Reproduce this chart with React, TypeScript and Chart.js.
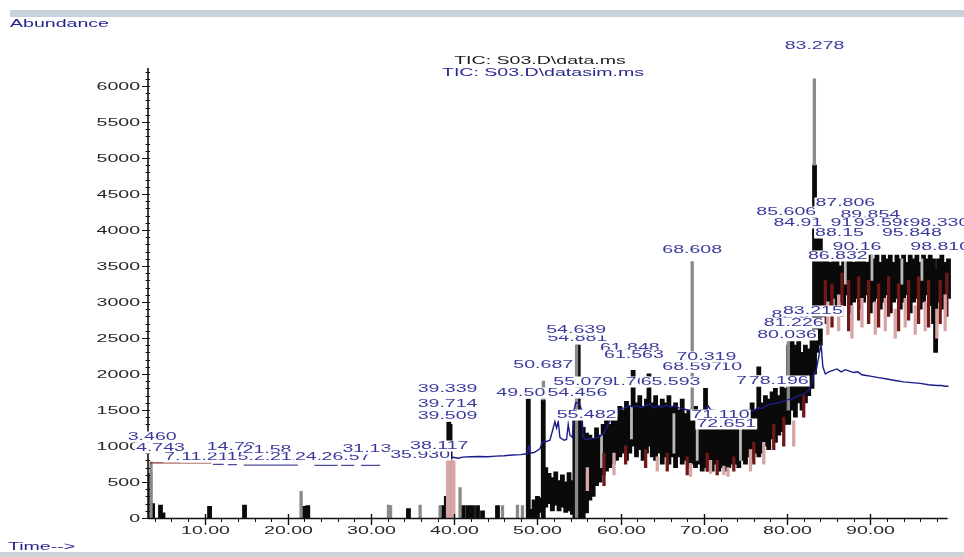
import { useEffect, useRef } from "react";
import { Chart, registerables } from "chart.js";

Chart.register(...registerables);

type Bar = [number, number, number];
type Pt = [number, number | null];
type Lbl = [string, number, number];

const xMin = 3.2;
const xMax = 100;
const yMin = 0;
const yMax = 6250;
const xTickValues = [10, 20, 30, 40, 50, 60, 70, 80, 90];
const yTickValues = [0, 500, 1000, 1500, 2000, 2500, 3000, 3500, 4000, 4500, 5000, 5500, 6000];

const titleLines = ["TIC: S03.D\\data.ms", "TIC: S03.D\\datasim.ms"];
const yAxisTitle = "Abundance";
const xAxisTitle = "Time-->";

// TIC data.ms, drawn as [time, low, high] strokes
const blackBars: Bar[] = [
  [3.42, 0, 620], [3.75, 0, 200], [4.7, 0, 180], [5.0, 0, 70], [10.6, 0, 160], [14.8, 0, 180],
  [22.0, 0, 160], [22.4, 0, 170], [34.5, 0, 130], [38.6, 0, 170], [39.05, 0, 300], [39.35, 780, 1330],
  [39.5, 820, 1300], [41.1, 0, 170], [41.7, 0, 170], [42.2, 0, 170], [42.8, 0, 170], [43.4, 0, 100],
  [45.2, 0, 170], [48.9, 0, 1650], [49.2, 0, 120], [49.6, 0, 250], [50.0, 0, 300], [50.4, 80, 280],
  [50.7, 0, 1640], [51.0, 150, 700], [51.4, 200, 620], [51.8, 100, 560], [52.2, 180, 640], [52.6, 100, 520],
  [53.0, 150, 600], [53.4, 80, 500], [53.8, 100, 630], [54.2, 50, 520], [54.5, 0, 1500], [54.9, 0, 2400],
  [55.2, 0, 1500], [55.5, 0, 1260], [55.9, 70, 1180], [56.3, 250, 1150], [56.7, 300, 1100], [57.1, 450, 1250],
  [57.5, 500, 1150], [57.9, 600, 1300], [58.3, 650, 1380], [58.7, 700, 1300], [59.1, 750, 1450], [59.5, 800, 1400],
  [59.9, 850, 1550], [60.3, 900, 1500], [60.7, 800, 1620], [61.1, 900, 1550], [61.5, 1000, 2050], [61.9, 850, 1600],
  [62.3, 950, 1700], [62.7, 800, 1550], [63.1, 900, 1650], [63.4, 1000, 2000], [63.8, 850, 1600], [64.2, 800, 1700],
  [64.6, 900, 1550], [65.0, 750, 1650], [65.4, 850, 1600], [65.8, 750, 1700], [66.2, 850, 1550], [66.6, 700, 1600],
  [67.0, 850, 1500], [67.4, 750, 1650], [67.8, 800, 1450], [68.2, 700, 1500], [68.6, 750, 1450], [69.0, 700, 1550],
  [69.4, 750, 1450], [69.8, 650, 1500], [70.2, 700, 1800], [70.6, 650, 1400], [71.0, 650, 1500], [71.4, 750, 1350],
  [71.8, 650, 1400], [72.2, 700, 1300], [72.6, 650, 1350], [73.0, 700, 1250], [73.4, 750, 1400], [73.8, 750, 1300],
  [74.2, 700, 1450], [74.6, 800, 1350], [75.0, 750, 1500], [75.4, 850, 1450], [75.8, 800, 1600], [76.2, 900, 1500],
  [76.6, 850, 2100], [77.0, 900, 1600], [77.4, 1000, 1700], [77.8, 950, 1650], [78.2, 1100, 1750], [78.6, 1050, 1800],
  [79.0, 1150, 1700], [79.4, 1200, 1850], [79.8, 1300, 1800], [80.2, 1300, 2400], [80.6, 1500, 2450], [81.0, 1400, 2400],
  [81.4, 1600, 2450], [81.8, 1500, 2300], [82.2, 1600, 2400], [82.6, 1700, 2350], [83.0, 1800, 2500], [83.3, 2000, 4900],
  [83.6, 2300, 3950], [84.0, 2400, 3900], [84.4, 2800, 3600], [84.8, 3000, 3650], [85.2, 2850, 3550], [85.6, 3050, 3600],
  [86.0, 2900, 3650], [86.4, 3000, 3500], [86.8, 2950, 3650], [87.2, 3100, 3600], [87.6, 2850, 3650], [88.0, 3000, 3550],
  [88.4, 3050, 3650], [88.8, 2900, 3600], [89.2, 3000, 3650], [89.6, 3100, 3550], [90.0, 2850, 3650], [90.4, 3000, 3600],
  [90.8, 3050, 3650], [91.2, 2900, 3550], [91.6, 3000, 3650], [92.0, 3100, 3600], [92.4, 2850, 3650], [92.8, 3000, 3550],
  [93.2, 3050, 3650], [93.6, 2900, 3600], [94.0, 3000, 3650], [94.4, 3100, 3550], [94.8, 2850, 3650], [95.2, 3000, 3600],
  [95.6, 3050, 3650], [96.0, 2900, 3550], [96.4, 3000, 3650], [96.8, 3100, 3600], [97.2, 2950, 3650], [97.6, 2700, 3600],
  [97.85, 2300, 3450], [98.2, 3000, 3600], [98.6, 2900, 3650], [99.0, 3000, 3550], [99.4, 3050, 3600],
];

const silverBars: Bar[] = [
  [57.7, 700, 1150], [61.3, 1100, 1550], [66.4, 900, 1450], [69.2, 800, 1350], [74.4, 800, 1300],
  [87.0, 3250, 3600], [90.2, 3300, 3650], [93.8, 3250, 3600], [96.2, 3300, 3600],
];

const grayBars: Bar[] = [
  [3.56, 0, 780], [21.6, 0, 370], [32.1, 0, 180], [32.35, 0, 170], [35.9, 0, 180], [38.3, 0, 170],
  [40.7, 0, 420], [45.8, 0, 170], [47.6, 0, 180], [48.2, 0, 170], [50.72, 1640, 1900], [54.7, 0, 2400],
  [68.6, 1450, 3560], [80.15, 1500, 2450], [83.28, 4900, 6100],
];

const darkRedBars: Bar[] = [
  [39.6, 0, 800], [58.0, 450, 900], [60.6, 750, 1000], [63.0, 700, 950], [65.6, 650, 900], [68.0, 600, 850],
  [70.4, 650, 900], [71.6, 600, 800], [73.6, 650, 850], [76.0, 750, 1050], [78.4, 950, 1300], [79.6, 1000, 1400],
  [82.0, 1400, 1700], [84.6, 2700, 3300], [85.4, 2650, 3250], [86.6, 2800, 3400], [87.4, 2600, 3300],
  [88.6, 2750, 3350], [89.8, 2700, 3300], [91.0, 2650, 3250], [92.2, 2800, 3350], [93.4, 2600, 3250],
  [94.6, 2750, 3300], [95.8, 2700, 3350], [97.0, 2650, 3300], [98.4, 2700, 3300], [99.2, 2800, 3400],
];

const pinkBars: Bar[] = [
  [39.2, 0, 810], [39.4, 0, 820], [39.75, 0, 800], [39.95, 0, 790], [56.0, 380, 700], [59.2, 600, 900],
  [64.4, 650, 850], [68.4, 580, 760], [70.8, 620, 800], [72.4, 600, 720], [72.9, 580, 700], [75.6, 650, 950],
  [77.2, 750, 1050], [80.8, 1000, 1350], [84.9, 2550, 3000], [86.2, 2600, 3100], [87.8, 2500, 2950],
  [89.0, 2650, 3050], [90.6, 2550, 3000], [91.8, 2600, 3050], [93.0, 2500, 2900], [94.2, 2650, 3050],
  [95.4, 2550, 2950], [96.6, 2600, 3000], [98.0, 2500, 2900], [99.0, 2600, 3100],
];

// integration baseline marks in the early part of the run
const baselineRed: Pt[] = [[3.46, 765], [10.8, 765]];
const baselineDashes: Pt[] = [
  [11.0, 745], [12.3, 745], [12.4, null], [12.8, 740], [13.9, 740], [14.0, null], [14.7, 735], [21.2, 735],
  [21.3, null], [23.2, 730], [26.0, 730], [26.1, null], [26.4, 730], [28.0, 730], [28.1, null], [28.8, 730], [31.1, 730],
];

// TIC datasim.ms
const datasim: Pt[] = [
  [38.1, 840], [38.3, 900], [38.5, 930], [38.7, 880], [39.0, 860], [39.5, 850], [40.0, 840], [40.5, 830],
  [41.0, 845], [42.0, 850], [43.0, 855], [44.0, 850], [45.0, 860], [46.0, 865], [47.0, 875], [48.0, 880],
  [48.8, 895], [48.9, 1000], [49.0, 1000], [49.1, 900], [49.6, 910], [50.3, 960], [50.6, 1060], [51.0, 1060],
  [51.5, 1080], [51.9, 1250], [52.1, 1340], [52.3, 1250], [52.5, 1340], [52.7, 1120], [53.2, 1080], [53.5, 1090],
  [53.7, 1300], [53.9, 1150], [54.2, 1120], [54.4, 1500], [54.6, 1600], [55.0, 1600], [55.3, 1500], [55.5, 1120],
  [55.8, 1090], [56.3, 1100], [57.0, 1110], [57.5, 1130], [58.0, 1180], [58.5, 1300], [59.0, 1430], [59.5, 1470],
  [60.0, 1520], [60.5, 1530], [61.0, 1560], [61.5, 1540], [62.0, 1560], [62.5, 1530], [63.0, 1560], [63.5, 1590],
  [64.0, 1530], [64.5, 1560], [65.0, 1540], [65.5, 1570], [66.0, 1540], [66.5, 1560], [67.0, 1530], [67.5, 1520],
  [68.0, 1500], [68.5, 1470], [69.0, 1460], [69.5, 1480], [70.0, 1450], [70.5, 1560], [71.0, 1470], [71.5, 1440],
  [72.0, 1430], [72.5, 1440], [73.0, 1420], [73.5, 1450], [74.0, 1430], [74.5, 1460], [75.0, 1470], [75.5, 1500],
  [76.0, 1490], [76.5, 1530], [77.0, 1520], [77.5, 1560], [78.0, 1580], [78.5, 1590], [79.0, 1600], [79.5, 1620],
  [80.0, 1640], [80.5, 1650], [81.0, 1680], [81.5, 1700], [82.0, 1720], [82.5, 1760], [82.9, 1850], [83.2, 2000],
  [83.5, 2050], [83.9, 2300], [84.1, 2400], [84.3, 2100], [84.6, 2000], [85.0, 2030], [85.5, 2050], [86.0, 2070],
  [86.5, 2030], [87.0, 2060], [87.5, 2040], [88.0, 2020], [88.5, 2030], [89.0, 1990], [89.5, 1980], [90.0, 1970],
  [91.0, 1950], [92.0, 1930], [93.0, 1910], [94.0, 1890], [95.0, 1880], [96.0, 1870], [97.0, 1850], [98.0, 1840],
  [98.5, 1840], [99.0, 1830], [99.4, 1830],
];

// peak annotations: [text, time, abundance]
const peakLabels: Lbl[] = [
  ["3.460", 3.7, 1125], ["4.743", 4.7, 972], ["7.112", 8.0, 847], ["11.211", 10.6, 847],
  ["14.79", 13.2, 986], ["15.21", 15.6, 847], ["21.58", 17.5, 944], ["21.91", 20.8, 847],
  ["24.25", 23.8, 847], ["26.57", 27.0, 847], ["31.13", 29.5, 958], ["35.930", 35.9, 875],
  ["38.117", 38.2, 1000], ["39.339", 39.2, 1790], ["39.714", 39.2, 1583], ["39.509", 39.2, 1417],
  ["49.50", 48.0, 1736], ["54.456", 54.8, 1736], ["50.687", 50.7, 2125], ["54.881", 54.8, 2500],
  ["54.639", 54.65, 2611], ["61.76", 60.3, 1889], ["55.079", 55.5, 1889], ["61.848", 61.1, 2361],
  ["61.563", 61.6, 2264], ["71.610", 71.0, 2097], ["68.597", 68.6, 2097], ["70.319", 70.3, 2236],
  ["65.593", 66.0, 1889], ["77.10", 76.8, 1903], ["78.196", 79.0, 1903], ["55.482", 55.9, 1430],
  ["71.110", 72.0, 1430], ["72.651", 72.7, 1306], ["80.036", 80.0, 2542], ["82.3", 80.4, 2820],
  ["81.226", 80.8, 2708], ["83.215", 83.1, 2875], ["68.608", 68.6, 3722], ["83.278", 83.3, 6556],
  ["85.606", 79.9, 4250], ["87.806", 87.0, 4375], ["84.91", 81.3, 4097], ["89.854", 90.0, 4208],
  ["91.9", 87.5, 4097], ["93.598", 91.6, 4097], ["98.330", 98.3, 4097], ["88.15", 86.3, 3958],
  ["95.848", 95.0, 3958], ["90.16", 88.4, 3764], ["98.810", 98.4, 3764], ["86.832", 86.1, 3639],
];

const FONT = '11.5px "Liberation Sans", Arial, sans-serif';
const STRETCH = 1.7;

function drawText(ctx: CanvasRenderingContext2D, text: string, x: number, y: number, align: string, color: string, box = false) {
  ctx.save();
  ctx.font = FONT;
  const w = ctx.measureText(text).width * STRETCH;
  const left = align === "center" ? x - w / 2 : align === "right" ? x - w : x;
  if (box) {
    ctx.fillStyle = "#ffffff";
    ctx.fillRect(left - 1, y - 5.5, w + 2, 11);
  }
  ctx.translate(left, y);
  ctx.scale(STRETCH, 1);
  ctx.fillStyle = color;
  ctx.textAlign = "left";
  ctx.textBaseline = "middle";
  ctx.fillText(text, 0, 0);
  ctx.restore();
}

const decorPlugin = {
  id: "decor",
  afterDraw(chart: any) {
    const ctx: CanvasRenderingContext2D = chart.ctx;
    const xs = chart.scales.x;
    const ys = chart.scales.y;
    const area = chart.chartArea;
    ctx.save();
    ctx.fillStyle = "#c8d0db";
    ctx.fillRect(10, 10, 954, 7);
    ctx.fillStyle = "#cdd1d8";
    ctx.fillRect(0, 552, 964, 5);

    ctx.strokeStyle = "#111";
    ctx.lineWidth = 1.6;
    ctx.beginPath();
    ctx.moveTo(area.left, area.top);
    ctx.lineTo(area.left, area.bottom);
    ctx.stroke();
    ctx.lineWidth = 1;
    for (let v = 100; v <= 6200; v += 100) {
      const y = Math.round(ys.getPixelForValue(v)) + 0.5;
      ctx.beginPath();
      ctx.moveTo(area.left - 2.5, y);
      ctx.lineTo(area.left + 2, y);
      ctx.stroke();
    }
    for (const v of yTickValues) {
      const y = Math.round(ys.getPixelForValue(v)) + 0.5;
      ctx.beginPath();
      ctx.moveTo(area.left - 6, y);
      ctx.lineTo(area.left, y);
      ctx.stroke();
      drawText(ctx, String(v), area.left - 8, y, "right", "#262626");
    }

    const x0 = area.left;
    const x1 = xs.getPixelForValue(99.3);
    ctx.lineWidth = 1.3;
    ctx.beginPath();
    ctx.moveTo(x0, area.bottom + 0.5);
    ctx.lineTo(x1, area.bottom + 0.5);
    ctx.stroke();
    ctx.lineWidth = 1;
    for (let t = 4; t <= 98; t += 2) {
      const x = Math.round(xs.getPixelForValue(t)) + 0.5;
      ctx.beginPath();
      ctx.moveTo(x, area.bottom);
      ctx.lineTo(x, area.bottom + 4);
      ctx.stroke();
    }
    for (const t of xTickValues) {
      const x = Math.round(xs.getPixelForValue(t)) + 0.5;
      ctx.lineWidth = 1.4;
      ctx.beginPath();
      ctx.moveTo(x, area.bottom - 4);
      ctx.lineTo(x, area.bottom + 7);
      ctx.stroke();
      drawText(ctx, t.toFixed(2), x, area.bottom + 13, "center", "#262626");
    }

    drawText(ctx, yAxisTitle, 10, 24, "left", "#24248c");
    drawText(ctx, xAxisTitle, 8, 547, "left", "#24248c");
    drawText(ctx, titleLines[0], 540, 61, "center", "#1c1c1c");
    drawText(ctx, titleLines[1], 543, 73, "center", "#2a2a90");

    for (const [text, t, v] of peakLabels) {
      drawText(ctx, text, xs.getPixelForValue(t), ys.getPixelForValue(v), "center", "#3a3a9e", true);
    }
    ctx.restore();
  },
};

const toBars = (rows: Bar[]) => rows.map(([x, lo, hi]) => ({ x, y: [lo, hi] }));
const toPts = (rows: Pt[]) => rows.map(([x, y]) => ({ x, y }));

export default function App() {
  const ref = useRef<HTMLCanvasElement | null>(null);
  useEffect(() => {
    if (!ref.current) return;
    const barBase = { type: "bar", grouped: false, borderWidth: 0, inflateAmount: 0.4 };
    const chart = new Chart(ref.current, {
      type: "bar",
      data: {
        datasets: [
          { ...barBase, label: "TIC: S03.D\\data.ms", data: toBars(blackBars), backgroundColor: "#0a0a0a", barThickness: 4, order: 6 },
          { ...barBase, label: "silver", data: toBars(silverBars), backgroundColor: "#b9b9b9", barThickness: 2, order: 5 },
          { ...barBase, label: "gray", data: toBars(grayBars), backgroundColor: "#8a8a8a", barThickness: 2.5, order: 4 },
          { ...barBase, label: "darkred", data: toBars(darkRedBars), backgroundColor: "#6e1818", barThickness: 2.5, order: 3 },
          { ...barBase, label: "pink", data: toBars(pinkBars), backgroundColor: "#d7a5a5", barThickness: 2.5, order: 2 },
          { type: "line", label: "baseline", data: toPts(baselineRed), borderColor: "#8c2a2a", borderWidth: 1.2, pointRadius: 0, order: 1 },
          { type: "line", label: "baseline2", data: toPts(baselineDashes), borderColor: "#4a4a9a", borderWidth: 1.2, pointRadius: 0, spanGaps: false, order: 1 },
          { type: "line", label: "TIC: S03.D\\datasim.ms", data: toPts(datasim), borderColor: "#1c1c8c", borderWidth: 1.4, pointRadius: 0, tension: 0, order: 0 },
        ] as any,
      },
      options: {
        responsive: false,
        animation: false,
        events: [],
        layout: { padding: { left: 0, right: 10.5, top: 68, bottom: 0 } },
        plugins: { legend: { display: false }, tooltip: { enabled: false }, title: { display: false } },
        scales: {
          x: {
            type: "linear",
            min: xMin,
            max: xMax,
            offset: false,
            ticks: { display: false },
            grid: { display: false, offset: false },
            border: { display: false },
            afterFit: (s: any) => { s.height = 39; },
          },
          y: {
            type: "linear",
            min: yMin,
            max: yMax,
            ticks: { display: false },
            grid: { display: false },
            border: { display: false },
            afterFit: (s: any) => { s.width = 148; },
          },
        },
      } as any,
      plugins: [decorPlugin],
    });
    return () => chart.destroy();
  }, []);
  return (
    <div style={{ position: "absolute", left: 0, top: 0, width: 964, height: 557, background: "#fff" }}>
      <canvas ref={ref} width={964} height={557} style={{ display: "block", width: 964, height: 557 }} />
    </div>
  );
}
